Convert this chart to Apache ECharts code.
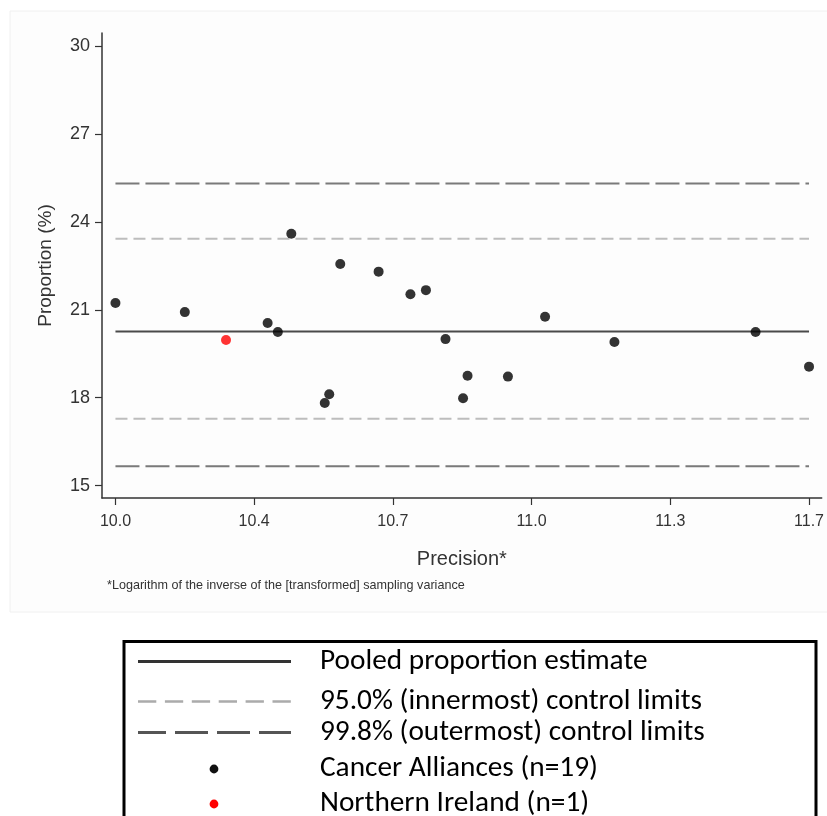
<!DOCTYPE html>
<html>
<head>
<meta charset="utf-8">
<script src="https://cdn.jsdelivr.net/npm/echarts@6/dist/echarts.min.js"></script>
<style>
html,body{margin:0;padding:0;background:#fff;}
#chart{width:827px;height:816px;}
</style>
</head>
<body>
<div id="chart"></div>
<script>
// ---------------- data ----------------
const caX = [10.000, 10.170, 10.373, 10.398, 10.431, 10.513, 10.524, 10.551, 10.645, 10.723, 10.761, 10.809, 10.852, 10.863, 10.962, 11.053, 11.223, 11.569, 11.700];
const caY = [21.23, 20.92, 20.55, 20.24, 23.59, 17.82, 18.12, 22.56, 22.30, 21.53, 21.67, 20.00, 17.98, 18.75, 18.72, 20.76, 19.90, 20.24, 19.06];
const niX = [10.271];
const niY = [19.97];
const pooled = 20.26;
const limits95 = [17.28, 23.42];
const limits998 = [15.66, 25.31];
const lineRange = [10.0, 11.7];
const xTickValues = [10.0, 10.34, 10.68, 11.02, 11.36, 11.70];
const xTickLabels = ['10.0', '10.4', '10.7', '11.0', '11.3', '11.7'];
const yTickValues = [15, 18, 21, 24, 27, 30];
const yTickLabels = ['15', '18', '21', '24', '27', '30'];
const legendLabels = ['Pooled proportion estimate', '95.0% (innermost) control limits', '99.8% (outermost) control limits', 'Cancer Alliances (n=19)', 'Northern Ireland (n=1)'];
const xTitle = 'Precision*';
const yTitle = 'Proportion (%)';
const footnote = '*Logarithm of the inverse of the [transformed] sampling variance';

// ---------------- helpers ----------------
const hline = (y) => lineRange.map(x => [x, y]);
const pts = (xs, ys) => xs.map((x, i) => [x, ys[i]]);

const chartFont = 'Liberation Sans, Arial, sans-serif';
const legendFont = 'Carlito, Lato, sans-serif';
// fit legend font so the first label has the reference width
const mctx = document.createElement('canvas').getContext('2d');
mctx.font = '100px ' + legendFont;
const legendFs = Math.round(327 * 100 / mctx.measureText(legendLabels[0]).width * 10) / 10;

const chart = echarts.init(document.getElementById('chart'), null, {renderer: 'canvas'});

const legendRowsY = [661.5, 701.5, 732.5, 769, 804];
const lx0 = 138, lx1 = 291, dotX = 214, textX = 320;

const graphics = [
  {type: 'rect', shape: {x: 10, y: 11, width: 830, height: 601}, style: {fill: '#fdfdfd', stroke: '#f0f0f0', lineWidth: 1}, z: -10, silent: true},
  {type: 'text', x: 107, y: 586, style: {text: footnote, font: '12.6px "Liberation Sans", Arial, sans-serif', fill: '#333', textVerticalAlign: 'middle'}},
  {type: 'rect', shape: {x: 124, y: 641.5, width: 692, height: 220}, style: {fill: 'none', stroke: '#000', lineWidth: 3}},
  {type: 'line', shape: {x1: lx0, y1: legendRowsY[0], x2: lx1, y2: legendRowsY[0]}, style: {stroke: '#333', lineWidth: 3}},
  {type: 'line', shape: {x1: lx0, y1: legendRowsY[1], x2: lx1, y2: legendRowsY[1]}, style: {stroke: '#ababab', lineWidth: 2.5, lineDash: [18.3, 8.6]}},
  {type: 'line', shape: {x1: lx0, y1: legendRowsY[2], x2: lx1, y2: legendRowsY[2]}, style: {stroke: '#555', lineWidth: 3, lineDash: [33, 9], lineDashOffset: 5}},
  {type: 'circle', shape: {cx: dotX, cy: legendRowsY[3], r: 4.4}, style: {fill: '#111'}},
  {type: 'circle', shape: {cx: dotX, cy: legendRowsY[4], r: 4.4}, style: {fill: '#ff0000'}}
];
legendLabels.forEach((t, i) => {
  graphics.push({type: 'text', x: textX, y: legendRowsY[i], style: {text: t, font: legendFs + 'px ' + legendFont, fill: '#000', textVerticalAlign: 'middle'}});
});

const option = {
  animation: false,
  backgroundColor: '#ffffff',
  grid: {left: 102, top: 33, width: 720, height: 465, containLabel: false},
  xAxis: {
    type: 'value', min: 9.967, max: 11.731,
    name: xTitle, nameLocation: 'middle', nameGap: 51,
    nameTextStyle: {fontFamily: chartFont, fontSize: 20, color: '#333'},
    axisLine: {show: true, onZero: false, lineStyle: {color: '#333', width: 1.5}},
    axisTick: {show: true, customValues: xTickValues, length: 7, lineStyle: {color: '#333', width: 1.2}},
    axisLabel: {customValues: xTickValues, margin: 16, fontFamily: chartFont, fontSize: 16, color: '#333',
      formatter: (v) => { const i = xTickValues.findIndex(t => Math.abs(t - v) < 1e-6); return i >= 0 ? xTickLabels[i] : ''; }},
    splitLine: {show: false}
  },
  yAxis: {
    type: 'value', min: 14.58, max: 30.44,
    name: yTitle, nameLocation: 'middle', nameGap: 47, nameRotate: 90,
    nameTextStyle: {fontFamily: chartFont, fontSize: 19, color: '#333'},
    axisLine: {show: true, onZero: false, lineStyle: {color: '#333', width: 1.5}},
    axisTick: {show: true, customValues: yTickValues, length: 7, lineStyle: {color: '#333', width: 1.2}},
    axisLabel: {customValues: yTickValues, margin: 12, fontFamily: chartFont, fontSize: 18, color: '#333',
      formatter: (v) => { const i = yTickValues.findIndex(t => Math.abs(t - v) < 1e-6); return i >= 0 ? yTickLabels[i] : ''; }},
    splitLine: {show: false}
  },
  series: [
    {type: 'line', name: 'pooled', data: hline(pooled), symbol: 'none', lineStyle: {color: '#4a4a4a', width: 2}, z: 2},
    {type: 'line', name: 'l95', data: hline(limits95[0]), symbol: 'none', lineStyle: {color: '#bdbdbd', width: 2, type: [12, 6]}, z: 2},
    {type: 'line', name: 'u95', data: hline(limits95[1]), symbol: 'none', lineStyle: {color: '#bdbdbd', width: 2, type: [12, 6]}, z: 2},
    {type: 'line', name: 'l998', data: hline(limits998[0]), symbol: 'none', lineStyle: {color: '#7a7a7a', width: 2, type: [24, 6]}, z: 2},
    {type: 'line', name: 'u998', data: hline(limits998[1]), symbol: 'none', lineStyle: {color: '#7a7a7a', width: 2, type: [24, 6]}, z: 2},
    {type: 'scatter', name: 'Cancer Alliances', data: pts(caX, caY), symbol: 'circle', symbolSize: 10, itemStyle: {color: '#000'}, z: 5},
    {type: 'scatter', name: 'Northern Ireland', data: pts(niX, niY), symbol: 'circle', symbolSize: 10, itemStyle: {color: '#ff0000'}, z: 5}
  ],
  graphic: graphics
};
chart.setOption(option);
</script>
</body>
</html>
